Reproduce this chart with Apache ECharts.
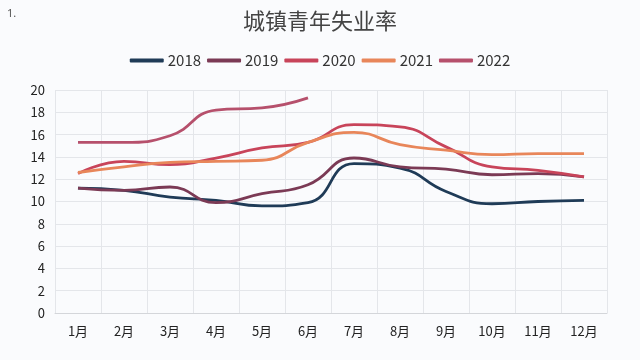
<!DOCTYPE html>
<html><head><meta charset="utf-8">
<script src="https://cdn.jsdelivr.net/npm/echarts@6/dist/echarts.min.js"></script>
<style>html,body{margin:0;padding:0;background:#fafbfd;}#c{width:640px;height:360px;}</style>
</head><body><div id="c"></div>
<script>
const months = ['1月','2月','3月','4月','5月','6月','7月','8月','9月','10月','11月','12月'];
const seriesNames = ['2018','2019','2020','2021','2022'];
const v2018 = [11.2, 11.0, 10.4, 10.1, 9.6, 9.9, 13.4, 13.0, 10.9, 9.8, 10.0, 10.1];
const v2019 = [11.2, 11.0, 11.3, 9.9, 10.7, 11.5, 13.9, 13.1, 12.9, 12.4, 12.5, 12.2];
const v2020 = [12.5, 13.6, 13.3, 13.9, 14.8, 15.3, 16.9, 16.7, 14.9, 13.1, 12.8, 12.2];
const v2021 = [12.6, 13.1, 13.5, 13.6, 13.7, 15.3, 16.2, 15.1, 14.6, 14.2, 14.3, 14.3];
const v2022 = [15.3, 15.3, 15.9, 18.2, 18.4, 19.3];
const yTicks = [0,2,4,6,8,10,12,14,16,18,20];
const colors = ['#1f3b57','#7b3a55','#c8445a','#e8865a','#b6506c'];
const values = [v2018, v2019, v2020, v2021, v2022];

const chart = echarts.init(document.getElementById('c'));
chart.setOption({
  backgroundColor: '#fafbfd',
  color: colors,
  title: [{
    text: '城镇青年失业率', left: 'center', top: 5,
    textStyle: {fontSize: 22, fontWeight: 'normal', color: '#444', fontFamily: 'Noto Sans CJK SC'}
  },{
    text: '1.', left: 2, top: 3,
    textStyle: {fontSize: 11, fontWeight: 'normal', color: '#555', fontFamily: 'Noto Sans'}
  }],
  legend: {
    top: 48, left: 'center', itemWidth: 34, itemHeight: 4, itemGap: 6,
    icon: 'roundRect',
    textStyle: {fontSize: 15, color: '#333', fontFamily: 'Noto Sans CJK SC', padding: [0, 0, 0, -1]},
    data: seriesNames
  },
  grid: {left: 55, right: 33, top: 90, bottom: 47},
  xAxis: {
    type: 'category', data: months, boundaryGap: true,
    axisLine: {lineStyle: {color: '#d4d6da'}},
    axisTick: {show: false},
    axisLabel: {fontSize: 13, color: '#222', margin: 12, fontFamily: 'Noto Sans CJK SC'},
    splitLine: {show: true, lineStyle: {color: '#e4e6ea'}}
  },
  yAxis: {
    type: 'value', min: 0, max: 20, interval: 2,
    axisLine: {show: false}, axisTick: {show: false},
    axisLabel: {fontSize: 13, color: '#222', margin: 10, fontFamily: 'Noto Sans CJK SC',
      formatter: v => yTicks.includes(v) ? String(v) : ''},
    splitLine: {lineStyle: {color: '#e4e6ea'}}
  },
  series: seriesNames.map((n, i) => ({
    name: n, type: 'line', smooth: true, showSymbol: false, symbol: 'none',
    data: values[i], lineStyle: {width: 2.8, color: colors[i]}, itemStyle: {color: colors[i]}
  }))
});
</script></body></html>
